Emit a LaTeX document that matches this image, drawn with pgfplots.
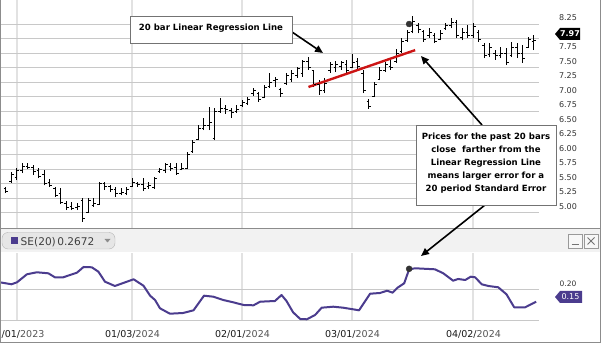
\documentclass[border=0pt]{standalone}
\usepackage{pgfplots}
\pgfplotsset{compat=1.18}
\usepackage{pgfplotstable}
\usepackage{fontspec}
\setmainfont{DejaVu Sans}
\usetikzlibrary{arrows.meta}

\definecolor{hgrid}{HTML}{C8C8C8}
\definecolor{vgrid}{HTML}{E2E2E2}
\definecolor{sepurple}{HTML}{4B3C8E}
\definecolor{regred}{HTML}{CC1414}
\definecolor{labelgray}{HTML}{333333}
\definecolor{yeargray}{HTML}{555555}
\definecolor{hdrbg}{HTML}{F2F2F2}
\definecolor{pillbg}{HTML}{E6E6E6}
\definecolor{pillborder}{HTML}{B4B4B4}
\definecolor{framegray}{HTML}{8C8C8C}

\pgfdeclareplotmark{otick}{\pgfpathmoveto{\pgfqpoint{-2.3pt}{0pt}}\pgfpathlineto{\pgfqpoint{0pt}{0pt}}\pgfusepathqstroke}
\pgfdeclareplotmark{ctick}{\pgfpathmoveto{\pgfqpoint{0pt}{0pt}}\pgfpathlineto{\pgfqpoint{2.3pt}{0pt}}\pgfusepathqstroke}

\pgfplotstableread{
i H L O C
-2 5.44 5.34 5.42 5.36
-1 5.70 5.51 5.53 5.66
0 5.77 5.56 5.60 5.72
1 5.85 5.68 5.72 5.80
2 5.85 5.75 5.80 5.78
3 5.82 5.65 5.78 5.70
4 5.77 5.59 5.72 5.62
5 5.73 5.47 5.65 5.50
6 5.58 5.44 5.52 5.47
7 5.44 5.27 5.42 5.30
8 5.42 5.15 5.32 5.18
9 5.20 5.04 5.16 5.08
10 5.18 5.04 5.10 5.07
11 5.16 5.04 5.08 5.10
12 5.25 4.84 5.20 4.90
13 5.25 4.99 5.00 5.20
14 5.25 5.10 5.12 5.15
15 5.53 5.13 5.14 5.50
16 5.53 5.39 5.50 5.44
17 5.47 5.35 5.44 5.40
18 5.44 5.27 5.40 5.32
19 5.42 5.30 5.32 5.34
20 5.44 5.30 5.33 5.40
21 5.59 5.44 5.45 5.52
22 5.53 5.44 5.50 5.48
23 5.59 5.37 5.48 5.42
24 5.53 5.41 5.44 5.46
25 5.61 5.41 5.43 5.58
26 5.77 5.68 5.70 5.75
27 5.85 5.68 5.72 5.82
28 5.85 5.72 5.80 5.76
29 5.85 5.65 5.78 5.68
30 5.85 5.73 5.74 5.76
31 6.04 5.75 5.76 6.00
32 6.25 6.03 6.05 6.20
33 6.51 6.25 6.26 6.45
34 6.63 6.42 6.45 6.50
35 6.82 6.42 6.50 6.55
36 6.80 6.25 6.28 6.75
37 6.97 6.72 6.75 6.80
38 6.85 6.70 6.80 6.78
39 6.80 6.63 6.76 6.72
40 6.85 6.72 6.74 6.78
41 6.94 6.82 6.84 6.90
42 6.99 6.85 6.88 6.95
43 7.15 7.01 7.05 7.10
44 7.08 6.91 7.05 6.94
45 7.20 6.97 6.98 7.15
46 7.41 7.15 7.18 7.25
47 7.34 7.16 7.28 7.30
48 7.15 6.99 7.12 7.05
49 7.41 7.20 7.22 7.36
50 7.46 7.25 7.30 7.40
51 7.51 7.32 7.36 7.48
52 7.63 7.34 7.40 7.60
53 7.68 7.46 7.60 7.50
54 7.46 7.16 7.44 7.20
55 7.28 7.03 7.20 7.10
56 7.32 7.06 7.10 7.22
57 7.60 7.41 7.44 7.55
58 7.61 7.42 7.50 7.56
59 7.61 7.46 7.52 7.58
60 7.63 7.37 7.55 7.45
61 7.73 7.49 7.50 7.58
62 7.66 7.46 7.60 7.52
63 7.46 7.06 7.40 7.10
64 6.96 6.79 6.92 6.82
65 7.25 6.99 7.00 7.20
66 7.51 7.28 7.30 7.45
67 7.60 7.42 7.45 7.55
68 7.63 7.46 7.52 7.50
69 7.82 7.58 7.60 7.75
70 8.01 7.75 7.78 7.95
71 8.15 7.94 7.96 8.10
72 8.39 8.09 8.12 8.30
73 8.27 8.09 8.22 8.15
74 8.15 7.94 8.12 7.98
75 8.18 8.01 8.05 8.10
76 8.09 7.92 8.05 7.95
77 8.15 7.97 7.98 8.08
78 8.27 8.15 8.18 8.22
79 8.35 8.18 8.22 8.28
80 8.32 8.01 8.28 8.05
81 8.18 7.97 8.02 8.10
82 8.23 8.01 8.10 8.05
83 8.27 8.01 8.05 8.20
84 8.15 7.94 8.10 7.98
85 7.92 7.66 7.88 7.70
86 7.92 7.68 7.72 7.85
87 7.80 7.63 7.75 7.70
88 7.85 7.66 7.70 7.75
89 7.84 7.54 7.75 7.58
90 7.94 7.68 7.70 7.85
91 7.92 7.66 7.85 7.75
92 7.89 7.58 7.75 7.65
93 8.03 7.84 7.85 7.98
94 8.06 7.80 7.95 7.97
}\ohlc

\pgfplotstableread{
i v
-3.1 0.2216
-1.0 0.2152
0.0 0.2216
1.8 0.2474
3.6 0.2539
5.7 0.2506
6.9 0.2377
8.4 0.2377
10.9 0.2526
12.1 0.2710
13.6 0.2700
14.8 0.2558
16.0 0.2235
17.8 0.2097
21.2 0.2313
23.0 0.2106
24.2 0.1784
25.1 0.1645
26.0 0.1377
27.8 0.1203
30.2 0.1226
32.1 0.1313
34.0 0.1784
35.7 0.1752
37.5 0.1645
39.3 0.1571
41.2 0.1484
43.0 0.1474
44.2 0.1590
46.9 0.1613
48.1 0.1806
49.0 0.1613
50.2 0.1248
51.5 0.1032
52.7 0.1023
54.2 0.1161
55.4 0.1397
57.5 0.1429
59.3 0.1397
62.2 0.1313
64.2 0.1848
66.0 0.1871
67.3 0.1945
68.3 0.1881
69.2 0.2042
70.4 0.2184
71.3 0.2635
72.4 0.2668
76.0 0.2635
77.5 0.2506
79.3 0.2268
80.2 0.2323
81.5 0.2290
82.5 0.2397
83.3 0.2377
84.5 0.2152
85.7 0.2097
87.5 0.2055
89.0 0.1829
90.4 0.1410
92.4 0.1410
94.4 0.1590
}\se

\pgfplotsset{
  panel/.style={
    scale only axis, width=539pt,
    xmin=-3.09, xmax=94.91,
    axis line style={draw=none},
    major tick length=0pt, tick style={draw=none},
    xtick={0,21,41,61,83},
    xmajorgrids, ymajorgrids,
    x grid style={vgrid, line width=2pt},
    y grid style={hgrid, line width=0.8pt},
    yticklabel pos=right,
    yticklabel style={anchor=center, xshift=29pt, text=labelgray},
  }
}

\begin{document}
\begin{tikzpicture}[trim left=0pt, trim right=602pt]
\clip (0pt,0pt) rectangle (602pt,345pt);
\fill[white] (0pt,0pt) rectangle (602pt,345pt);
% header strip
\fill[hdrbg] (0pt,92.5pt) rectangle (601pt,117pt);

% ---------- price panel ----------
\begin{axis}[panel, at={(0pt,117pt)}, anchor=south west, height=228pt,
  ymin=4.733, ymax=8.664,
  xticklabels={},
  ytick={5,5.25,5.5,5.75,6,6.25,6.5,6.75,7,7.25,7.5,7.75,8,8.25},
  yticklabels={5.00,5.25,5.50,5.75,6.00,6.25,6.50,6.75,7.00,7.25,7.50,7.75,,8.25},
  yticklabel style={yshift=6pt, font=\fontsize{8}{9}\selectfont},
]
\addplot[draw=none, mark=none, forget plot,
  error bars/.cd, y dir=plus, y explicit, error mark=none,
  error bar style={draw=black, line width=1pt}]
  table[x=i, y=L, y error plus expr={\thisrow{H}-\thisrow{L}}] {\ohlc};
\addplot[only marks, mark=otick, black, mark options={line width=1pt}] table[x=i, y=O] {\ohlc};
\addplot[only marks, mark=ctick, black, mark options={line width=1pt}] table[x=i, y=C] {\ohlc};
\addplot[regred, line width=2.4pt, no marks] coordinates {(53,7.164) (72.4,7.80)};
\addplot[only marks, mark=*, mark size=3pt, draw=black!80, fill=black!80] coordinates {(71.3,8.25)};
\end{axis}

% ---------- SE panel ----------
\begin{axis}[panel, at={(0pt,25pt)}, anchor=south west, height=67pt,
  ymin=0.10, ymax=0.3161,
  ytick={0.1,0.2}, yticklabels={,0.20},
  yticklabel style={yshift=5pt, font=\fontsize{7.5}{9}\selectfont},
  xticklabels={{12/01/\textcolor{yeargray}{2023}},{01/03/\textcolor{yeargray}{2024}},{02/01/\textcolor{yeargray}{2024}},{03/01/\textcolor{yeargray}{2024}},{04/02/\textcolor{yeargray}{2024}}},
  xticklabel style={anchor=center, yshift=-14pt, font=\fontsize{9.5}{11}\selectfont, text=black!90},
]
\addplot[sepurple, line width=2pt, no marks, line join=round] table[x=i, y=v] {\se};
\addplot[only marks, mark=*, mark size=3pt, draw=black!80, fill=black!80] coordinates {(71.3,0.2650)};
\end{axis}

\begin{scope}[x=1pt,y=1pt]
% panel separator and frame
\draw[framegray, line width=0.8pt] (0,117) -- (601,117);
\draw[framegray, line width=1pt] (0.5,345) -- (0.5,2.5) -- (600.8,2.5) -- (600.8,345);

% value tags
\fill[black] (555,311) -- (560,317) -- (580,317) -- (580,305) -- (560,305) -- cycle;
\node[text=white, font=\fontsize{8}{9}\selectfont\bfseries, inner sep=0] at (570,311) {7.97};
\fill[sepurple] (555,48) -- (560,54) -- (582,54) -- (582,42) -- (560,42) -- cycle;
\node[text=white, font=\fontsize{8}{9}\selectfont, inner sep=0] at (570.5,48) {0.15};

% header pill
\draw[pillborder, fill=pillbg, rounded corners=6pt] (2,96) rectangle (115,112.5);
\fill[sepurple] (11,101) rectangle (17.5,107.5);
\node[anchor=base west, inner sep=0, font=\fontsize{10.6}{12}\selectfont, text=black!75] at (20.5,99.5) {SE(20)\hspace{1.5pt}0.2672};
\fill[black!45] (104.5,106) -- (110.5,106) -- (107.5,102.5) -- cycle;

% window buttons
\draw[black!40, fill=black!3] (568,97) rectangle (582,111);
\draw[black!55, line width=1.2pt] (571.5,100.5) -- (578.5,100.5);
\draw[black!40, fill=black!3] (584,97) rectangle (598,111);
\draw[black!55, line width=1pt] (587.5,100.5) -- (594.5,107.5) (587.5,107.5) -- (594.5,100.5);

% annotation arrows
\draw[black, line width=1.6pt, -{Triangle[length=8pt,width=7pt]}] (292,313) -- (323,292);
\draw[black, line width=1.6pt, -{Triangle[length=8pt,width=7pt]}] (482,220) -- (421,289);
\draw[black, line width=1.6pt, -{Triangle[length=8pt,width=7pt]}] (485,140) -- (421,89);

% annotation boxes
\draw[black!55, fill=white] (130.5,302) rectangle (292,329);
\node[font=\fontsize{8.55}{10}\selectfont\bfseries] at (211,316.5) {20 bar Linear Regression Line};
\draw[black!55, fill=white] (416,140) rectangle (556,220);
\node[font=\fontsize{8.55}{13}\selectfont\bfseries, align=center] at (486,181.5)
  {Prices for the past 20 bars\\close\ \ farther from the\\Linear Regression Line\\means larger error for a\\20 period Standard Error};
\end{scope}
\end{tikzpicture}
\end{document}
